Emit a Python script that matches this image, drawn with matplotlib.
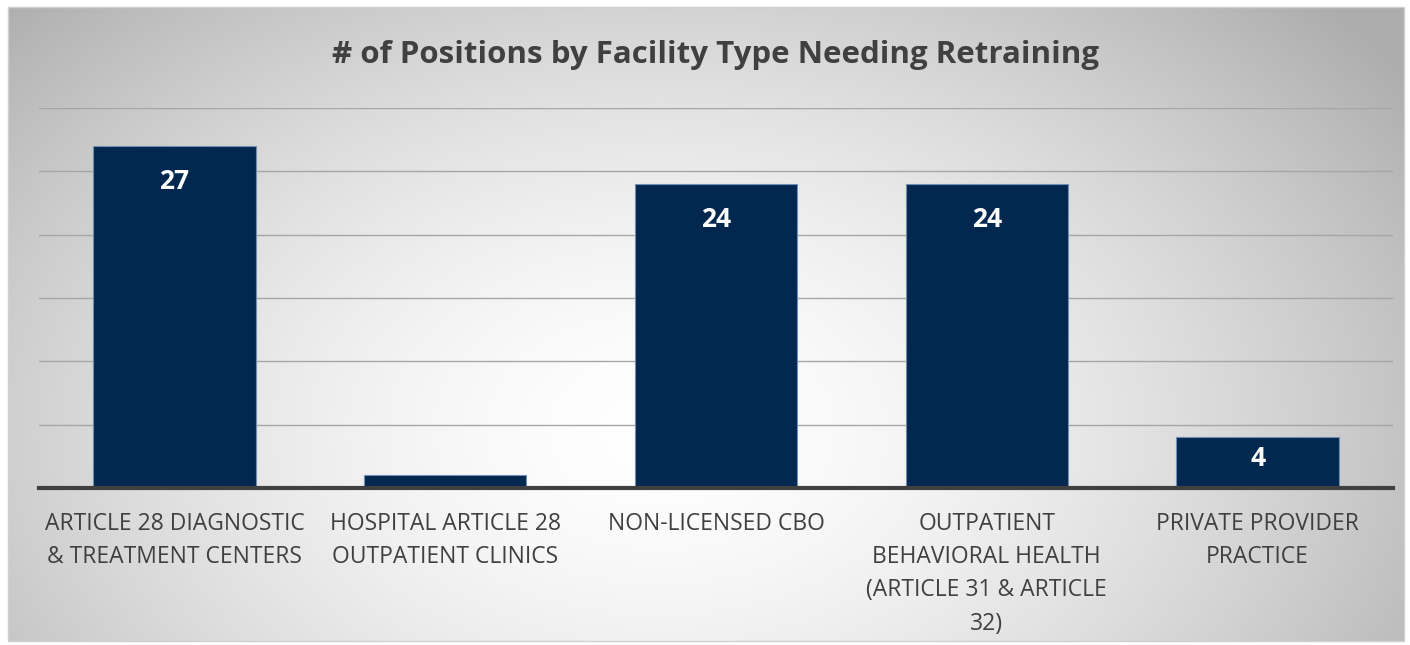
import numpy as np
import matplotlib.pyplot as plt
from matplotlib.patches import Rectangle


plt.rcParams.update({'font.family': ['Open Sans', 'DejaVu Sans']})

categories = ['ARTICLE 28 DIAGNOSTIC\n& TREATMENT CENTERS',
              'HOSPITAL ARTICLE 28\nOUTPATIENT CLINICS',
              'NON-LICENSED CBO',
              'OUTPATIENT\nBEHAVIORAL HEALTH\n(ARTICLE 31 & ARTICLE\n32)',
              'PRIVATE PROVIDER\nPRACTICE']
positions = [27, 1, 24, 24, 4]
title = '# of Positions by Facility Type Needing Retraining'

W, H = 1410, 645
fig = plt.figure(figsize=(W / 100, H / 100), dpi=100)

# radial gradient background
bg = fig.add_axes([0, 0, 1, 1])
yy, xx = np.mgrid[0:H, 0:W]
r = np.sqrt(((xx - 660) / 760.0) ** 2 + ((yy - 430) / 520.0) ** 2)
shade = 1.0 - 0.24 * np.clip(r, 0, 1.2) ** 1.6
img = np.dstack([shade, shade, shade])
img[:7, :] = 1
img[:, :8] = 1
img[641:, :] = 1
img[:, 1404:] = 1
bg.imshow(img, extent=[0, W, H, 0], aspect='auto')
bg.add_patch(Rectangle((8, 7), 1396, 634, fill=False, edgecolor='#d0d0d0', lw=1))
bg.set_xlim(0, W)
bg.set_ylim(H, 0)
bg.axis('off')

ax = fig.add_axes([39 / W, 157 / H, (1393 - 39) / W, (537 - 157) / H])
ax.patch.set_alpha(0)
x = np.arange(len(categories))
bars = ax.bar(x, positions, width=0.6, color='#02284f', edgecolor='#6d8fb3', linewidth=0.8, zorder=3)
for b, v in zip(bars, positions):
    if v > 2:
        ax.text(b.get_x() + b.get_width() / 2, max(v - 2.8, v * 0.58), str(v), ha='center',
                va='center', color='white', fontsize=19, fontweight='bold', zorder=4)

ax.set_xlim(-0.5, len(categories) - 0.5)
ax.set_ylim(0, 30)
ax.set_yticks(np.arange(0, 31, 5))
ax.yaxis.grid(True, color='#a6a6a6', lw=1)
ax.set_axisbelow(True)
ax.tick_params(axis='y', left=False, labelleft=False)
ax.tick_params(axis='x', length=0, pad=17)
ax.set_xticks(x)
ax.set_xticklabels(categories, fontsize=16.5, color='#404040', linespacing=1.52, va='top')
for s in ['top', 'right', 'left']:
    ax.spines[s].set_visible(False)
ax.spines['bottom'].set_color('#404040')
ax.spines['bottom'].set_linewidth(3)
ax.spines['bottom'].set_zorder(5)

fig.text(716 / W, 1 - 55 / H, title, ha='center', va='center', fontsize=22.5,
         fontweight='bold', color='#404040')

plt.savefig('out.png', dpi=100)
